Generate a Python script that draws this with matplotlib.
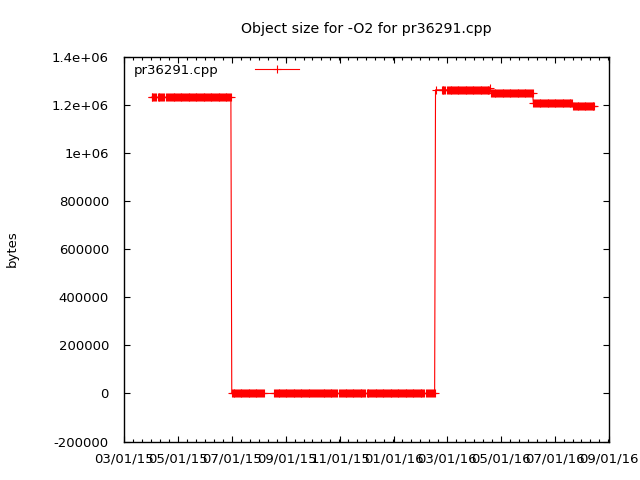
import pandas as pd
import numpy as np
import matplotlib
matplotlib.use('Agg')
import matplotlib.pyplot as plt
import matplotlib.dates as mdates
from matplotlib.ticker import FuncFormatter, AutoMinorLocator

# runs of daily builds with the same object size (start, end, bytes)
run_start = ['2015-04-01', '2015-04-08', '2015-04-18', '2015-07-01', '2015-08-18',
             '2015-10-06', '2015-10-31', '2015-12-01', '2016-02-06', '2016-02-10',
             '2016-02-17', '2016-02-24', '2016-03-01', '2016-04-19', '2016-04-20',
             '2016-06-07', '2016-07-22']
run_end = ['2015-04-06', '2015-04-15', '2015-06-30', '2015-08-06', '2015-10-04',
           '2015-10-28', '2015-11-29', '2016-02-04', '2016-02-08', '2016-02-16',
           '2016-02-17', '2016-02-28', '2016-04-18', '2016-04-19', '2016-06-06',
           '2016-07-21', '2016-08-15']
run_bytes = [1231000, 1231000, 1231000, 0, 0,
             0, 0, 0, 0, 0,
             1262000, 1262000, 1262000, 1269000, 1248000,
             1206000, 1195000]

y_ticks = [-200000, 0, 200000, 400000, 600000, 800000, 1000000, 1200000, 1400000]

dates = []
sizes = []
for s, e, v in zip(run_start, run_end, run_bytes):
    d = pd.date_range(s, e, freq='D')
    dates.extend(d)
    sizes.extend([v] * len(d))

plt.rcParams['font.family'] = ['DejaVu Sans']
plt.rcParams['font.size'] = 9.5

fig = plt.figure(figsize=(6.4, 4.8), dpi=100)
ax = fig.add_axes([0.194, 0.080, 0.758, 0.802])

ax.plot(dates, sizes, color='red', linewidth=0.8, marker='+', markersize=5.5,
        markeredgewidth=0.8, label='pr36291.cpp')

ax.set_xlim(pd.Timestamp('2015-03-01'), pd.Timestamp('2016-09-01'))
ax.set_ylim(-200000, 1400000)
ax.set_yticks(y_ticks)
ax.yaxis.set_major_formatter(FuncFormatter(lambda v, p: '%g' % v))

ax.xaxis.set_major_locator(mdates.MonthLocator(bymonth=[1, 3, 5, 7, 9, 11]))
ax.xaxis.set_major_formatter(mdates.DateFormatter('%m/%d/%y'))
ax.xaxis.set_minor_locator(AutoMinorLocator(6))

ax.tick_params(which='both', direction='in', top=True, right=True, width=0.8,
               labelsize=9.5)
ax.tick_params(which='major', length=4)
ax.tick_params(which='minor', length=2)
ax.tick_params(axis='y', pad=11)
ax.tick_params(axis='x', pad=8)
for sp in ax.spines.values():
    sp.set_linewidth(1.0)

ax.set_title('Object size for -O2 for pr36291.cpp', pad=17, fontsize=10.2)
ax.set_ylabel('bytes', fontsize=9.5)
ax.yaxis.set_label_coords(-0.217, 0.5)

# key in the top left corner, text first then the sample
ax.legend(loc='upper left', bbox_to_anchor=(0.004, 1.0015), frameon=False,
          markerfirst=False, fontsize=9.5, handlelength=3.3, handletextpad=2.75,
          borderaxespad=0.3, borderpad=0.3)

plt.savefig('out.png')
